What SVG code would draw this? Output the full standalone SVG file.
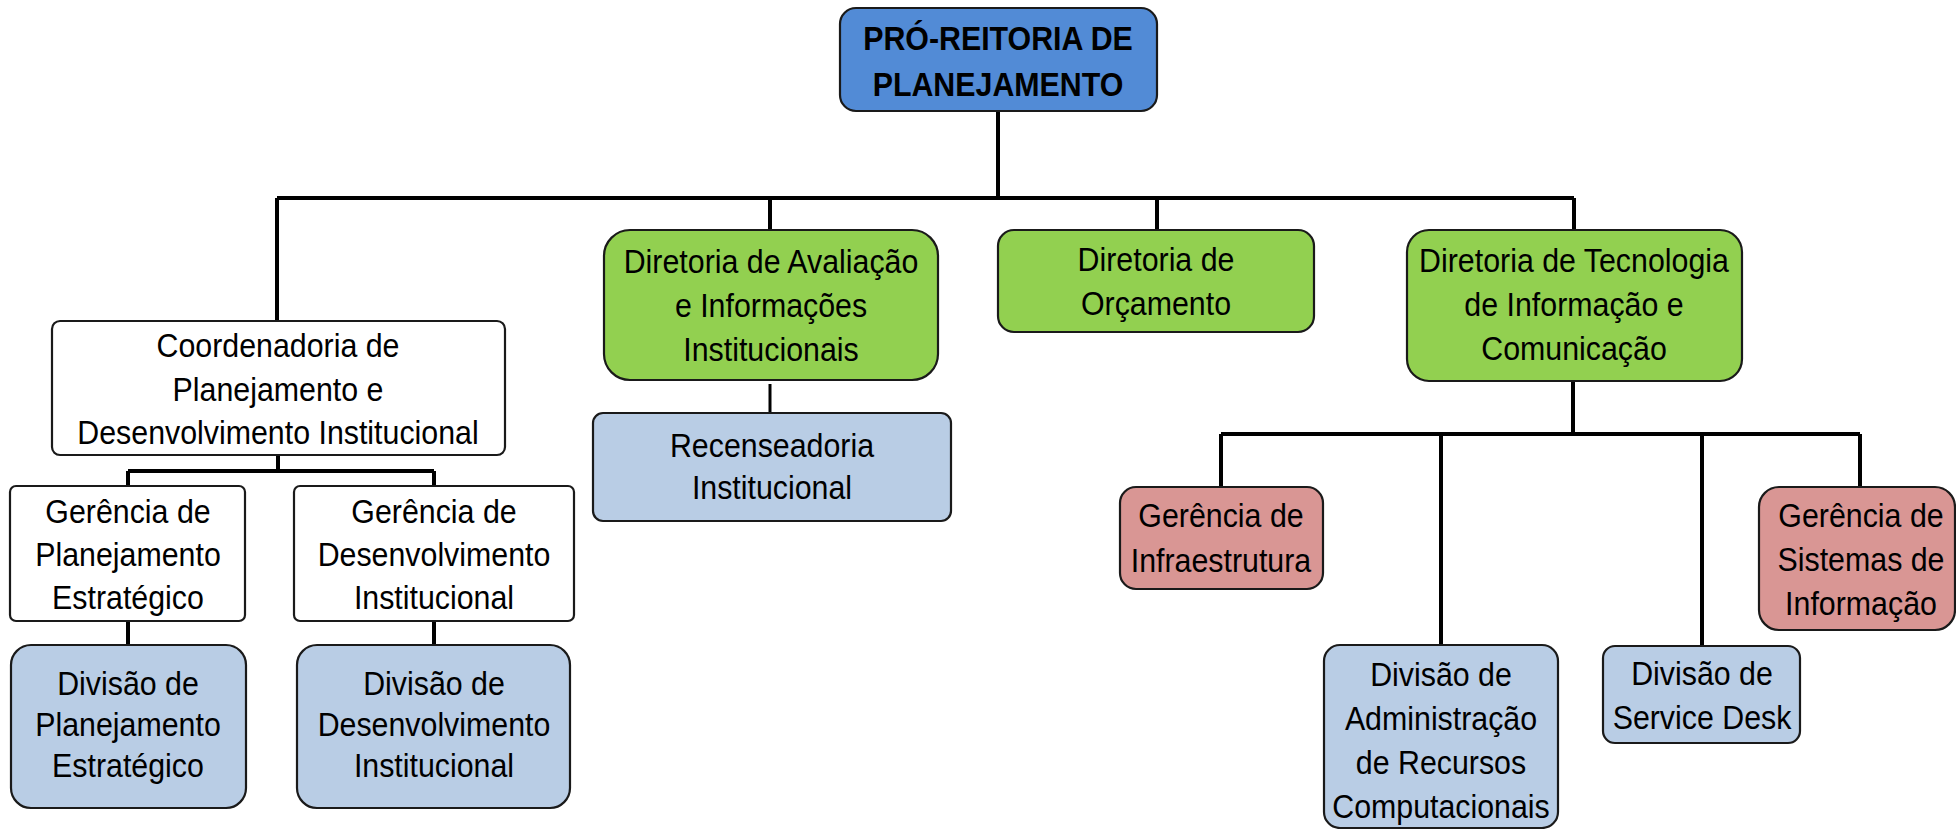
<svg xmlns="http://www.w3.org/2000/svg" width="1956" height="829" viewBox="0 0 1956 829">
<style>
.box{stroke:#1a1a1a;stroke-width:2.2}
.w{fill:#ffffff}
.b{fill:#528bd6}
.g{fill:#92d050}
.lb{fill:#b9cde5}
.r{fill:#d99694}
.t{font-family:"Liberation Sans",Arial,sans-serif;font-size:33px;fill:#000;text-anchor:middle}
.tb{font-weight:bold}
.c{stroke:#000;stroke-width:4;fill:none}
</style>
<rect width="1956" height="829" fill="#ffffff"/>
<g id="connectors">
<path class="c" d="M998 111V198M277 198H1574M277 198V321M770 198V230M1157 198V230M1574 198V230"/>
<path class="c" d="M278 455V471M128 471H434M128 471V486M434 471V486M128 621V645M434 621V645"/>
<path class="c" d="M770 384V413" style="stroke-width:3"/>
<path class="c" d="M1573 381V434M1221 434H1860M1221 434V487M1441 434V645M1702 434V646M1860 434V487"/>
</g>
<g id="n-pro-reitoria">
<rect class="box b" x="840" y="8" width="317" height="103" rx="16"/>
<text class="t tb" transform="translate(998 0) scale(0.92 1)"><tspan x="0" y="50">PRÓ-REITORIA DE</tspan><tspan x="0" y="96">PLANEJAMENTO</tspan></text>
</g>
<g id="n-coordenadoria">
<rect class="box w" x="52" y="321" width="453" height="134" rx="8"/>
<text class="t" transform="translate(278 0) scale(0.92 1)"><tspan x="0" y="357">Coordenadoria de</tspan><tspan x="0" y="401">Planejamento e</tspan><tspan x="0" y="444">Desenvolvimento Institucional</tspan></text>
</g>
<g id="n-ger-planejamento">
<rect class="box w" x="10" y="486" width="235" height="135" rx="6"/>
<text class="t" transform="translate(128 0) scale(0.92 1)"><tspan x="0" y="523">Gerência de</tspan><tspan x="0" y="566">Planejamento</tspan><tspan x="0" y="609">Estratégico</tspan></text>
</g>
<g id="n-ger-desenvolvimento">
<rect class="box w" x="294" y="486" width="280" height="135" rx="6"/>
<text class="t" transform="translate(434 0) scale(0.92 1)"><tspan x="0" y="523">Gerência de</tspan><tspan x="0" y="566">Desenvolvimento</tspan><tspan x="0" y="609">Institucional</tspan></text>
</g>
<g id="n-div-planejamento">
<rect class="box lb" x="11" y="645" width="235" height="163" rx="20"/>
<text class="t" transform="translate(128 0) scale(0.92 1)"><tspan x="0" y="695">Divisão de</tspan><tspan x="0" y="736">Planejamento</tspan><tspan x="0" y="777">Estratégico</tspan></text>
</g>
<g id="n-div-desenvolvimento">
<rect class="box lb" x="297" y="645" width="273" height="163" rx="20"/>
<text class="t" transform="translate(434 0) scale(0.92 1)"><tspan x="0" y="695">Divisão de</tspan><tspan x="0" y="736">Desenvolvimento</tspan><tspan x="0" y="777">Institucional</tspan></text>
</g>
<g id="n-dir-avaliacao">
<rect class="box g" x="604" y="230" width="334" height="150" rx="26"/>
<text class="t" transform="translate(771 0) scale(0.92 1)"><tspan x="0" y="273">Diretoria de Avaliação</tspan><tspan x="0" y="317">e Informações</tspan><tspan x="0" y="361">Institucionais</tspan></text>
</g>
<g id="n-recenseadoria">
<rect class="box lb" x="593" y="413" width="358" height="108" rx="10"/>
<text class="t" transform="translate(772 0) scale(0.92 1)"><tspan x="0" y="457">Recenseadoria</tspan><tspan x="0" y="499">Institucional</tspan></text>
</g>
<g id="n-dir-orcamento">
<rect class="box g" x="998" y="230" width="316" height="102" rx="16"/>
<text class="t" transform="translate(1156 0) scale(0.92 1)"><tspan x="0" y="271">Diretoria de</tspan><tspan x="0" y="315">Orçamento</tspan></text>
</g>
<g id="n-dir-tecnologia">
<rect class="box g" x="1407" y="230" width="335" height="151" rx="22"/>
<text class="t" transform="translate(1574 0) scale(0.92 1)"><tspan x="0" y="272">Diretoria de Tecnologia</tspan><tspan x="0" y="316">de Informação e</tspan><tspan x="0" y="360">Comunicação</tspan></text>
</g>
<g id="n-ger-infraestrutura">
<rect class="box r" x="1120" y="487" width="203" height="102" rx="16"/>
<text class="t" transform="translate(1221 0) scale(0.92 1)"><tspan x="0" y="527">Gerência de</tspan><tspan x="0" y="572">Infraestrutura</tspan></text>
</g>
<g id="n-ger-sistemas">
<rect class="box r" x="1759" y="487" width="196" height="143" rx="20"/>
<text class="t" transform="translate(1861 0) scale(0.92 1)"><tspan x="0" y="527">Gerência de</tspan><tspan x="0" y="571">Sistemas de</tspan><tspan x="0" y="615">Informação</tspan></text>
</g>
<g id="n-div-adm-recursos">
<rect class="box lb" x="1324" y="645" width="234" height="183" rx="16"/>
<text class="t" transform="translate(1441 0) scale(0.92 1)"><tspan x="0" y="686">Divisão de</tspan><tspan x="0" y="730">Administração</tspan><tspan x="0" y="774">de Recursos</tspan><tspan x="0" y="818">Computacionais</tspan></text>
</g>
<g id="n-div-service-desk">
<rect class="box lb" x="1603" y="646" width="197" height="97" rx="12"/>
<text class="t" transform="translate(1702 0) scale(0.92 1)"><tspan x="0" y="685">Divisão de</tspan><tspan x="0" y="729">Service Desk</tspan></text>
</g>
</svg>
